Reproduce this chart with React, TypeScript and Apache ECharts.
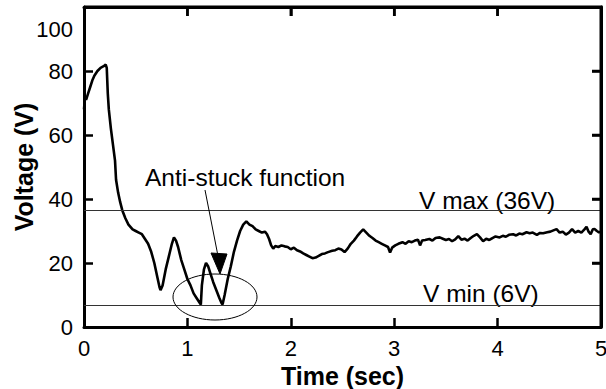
import React, { useEffect, useRef } from "react";
import * as echarts from "echarts";

const timeSec: number[] = [
  0.0, 0.01, 0.02, 0.04, 0.06, 0.08, 0.1, 0.13, 0.16, 0.19, 0.21, 0.22, 0.23, 0.24, 0.26, 0.28, 0.3, 0.31, 0.33, 0.35,
  0.37, 0.4, 0.43, 0.47, 0.5, 0.53, 0.56, 0.59, 0.62, 0.65, 0.68, 0.71, 0.73, 0.74, 0.76, 0.79, 0.82, 0.85, 0.87, 0.89,
  0.91, 0.94, 0.97, 1.0, 1.03, 1.06, 1.09, 1.12, 1.13, 1.14, 1.16, 1.18, 1.2, 1.22, 1.25, 1.28, 1.31, 1.33, 1.34, 1.36,
  1.39, 1.42, 1.45, 1.48, 1.51, 1.54, 1.57, 1.6, 1.63, 1.66, 1.69, 1.72, 1.75, 1.77, 1.79, 1.81, 1.83, 1.85, 1.88, 1.91,
  1.94, 1.97, 2.0, 2.03, 2.06, 2.09, 2.12, 2.15, 2.18, 2.21, 2.24, 2.27, 2.3, 2.33, 2.36, 2.4, 2.43, 2.46, 2.49, 2.52,
  2.55, 2.58, 2.61, 2.64, 2.67, 2.7, 2.73, 2.76, 2.79, 2.82, 2.85, 2.88, 2.91, 2.94, 2.96, 2.98, 3.01, 3.04, 3.08, 3.11,
  3.14, 3.17, 3.2, 3.23, 3.25, 3.27, 3.3, 3.34, 3.37, 3.4, 3.44, 3.47, 3.5, 3.53, 3.56, 3.59, 3.62, 3.65, 3.68, 3.71,
  3.74, 3.77, 3.8, 3.83, 3.86, 3.89, 3.92, 3.95, 3.98, 4.02, 4.05, 4.08, 4.11, 4.15, 4.18, 4.21, 4.24, 4.28, 4.31, 4.34,
  4.38, 4.41, 4.44, 4.48, 4.51, 4.54, 4.57, 4.6, 4.63, 4.66, 4.69, 4.72, 4.75, 4.78, 4.81, 4.84, 4.86, 4.88, 4.9, 4.92,
  4.94, 4.96, 4.98, 5.0,
];

const voltage: number[] = [
  68, 72, 71, 73, 75, 77, 78.5, 80, 81, 81.5, 82, 81, 73, 68, 62, 57, 52, 46, 42, 39,
  36.5, 34, 32, 30.5, 30, 29.5, 29, 27.5, 26, 23.5, 20, 15.5, 12.5, 11.5, 13, 18, 22, 26, 28, 27,
  25, 21, 18, 15, 13, 10.5, 9, 7.5, 7, 13, 18, 20, 19, 17, 14, 11.5, 9, 7.5, 7, 10,
  15, 19, 23.5, 27, 30, 32, 33, 32, 31.5, 30.5, 30, 29.5, 29.8, 29, 27.5, 25.5, 24.5, 25.3, 25, 25.5,
  25.2, 25, 24.3, 24.8, 24, 23.6, 23, 22.5, 22, 21.5, 21.7, 22.2, 22.8, 23, 23.4, 23.8, 24, 24.5, 24.2, 23.4,
  24.5, 26, 27, 28.3, 29.5, 30.5, 29.5, 28.5, 27.8, 27, 26.5, 26, 25.5, 25, 23.3, 24.8, 25.5, 26, 26.5, 26,
  26.8, 26.5, 27, 27.3, 25.5, 27, 27.2, 27.5, 27, 27.8, 28, 27.6, 27.2, 27.5, 26.8, 27.4, 28.4, 27.3, 27.6, 27,
  27.8, 28.5, 29, 28, 26.8, 27.6, 27.2, 27.8, 28.3, 28, 28.5, 28.2, 28.8, 29, 28.6, 29.2, 29, 29.6, 29.3, 29.5,
  28.8, 29.4, 29.3, 29.6, 29.8, 30.2, 30.6, 29.5, 29.8, 28.9, 29.5, 30.6, 29.5, 30, 29.5, 30.5, 31.3, 29.8, 29, 30.5,
  30.6, 30, 29.6, 29.8,
];

const xTicks: number[] = [0, 1, 2, 3, 4, 5];
const yTicks: number[] = [0, 20, 40, 60, 80, 100];
const vMax = 36.5;
const vMin = 6.7;
const vMaxLabel = "V max (36V)";
const vMinLabel = "V min (6V)";
const annotationText = "Anti-stuck function";
const xTitle = "Time (sec)";
const yTitle = "Voltage (V)";

const FONT = "'Liberation Sans', Arial, Helvetica, sans-serif";

export default function App() {
  const ref = useRef<HTMLDivElement>(null);

  useEffect(() => {
    if (!ref.current) return;
    const chart = echarts.init(ref.current, undefined, { renderer: "svg" });
    const points = timeSec.map((t, i) => [t, voltage[i]]);
    const mkLine = () => ({ show: true, onZero: false, lineStyle: { color: "#000", width: 3 } });
    const mkTick = () => ({ show: true, inside: true, length: 9, lineStyle: { color: "#000", width: 2.5 } });
    const xMin = xTicks[0];
    const xMax = xTicks[xTicks.length - 1];
    const yMin = yTicks[0];
    const yMax = yTicks[yTicks.length - 1];

    const annotations: any[] = [
      {
        type: "text",
        x: 73,
        y: 29,
        style: { text: String(yMax), fill: "#000", font: `22px ${FONT}`, align: "right", verticalAlign: "middle" },
      },
      {
        type: "text",
        x: 145,
        y: 177,
        style: { text: annotationText, fill: "#000", font: `24.5px ${FONT}`, align: "left", verticalAlign: "middle" },
      },
      {
        type: "text",
        x: 419,
        y: 200,
        style: { text: vMaxLabel, fill: "#000", font: `24.5px ${FONT}`, align: "left", verticalAlign: "middle" },
      },
      {
        type: "text",
        x: 423,
        y: 293,
        style: { text: vMinLabel, fill: "#000", font: `24.5px ${FONT}`, align: "left", verticalAlign: "middle" },
      },
      {
        type: "ellipse",
        shape: { cx: 215, cy: 297, rx: 42, ry: 23 },
        style: { fill: "none", stroke: "#000", lineWidth: 1 },
        z: 10,
      },
      {
        type: "line",
        shape: { x1: 205, y1: 190, x2: 218, y2: 256 },
        style: { stroke: "#000", lineWidth: 1 },
        z: 10,
      },
      {
        type: "polygon",
        shape: { points: [[211, 253], [227, 254], [220, 274]] },
        style: { fill: "#000", stroke: "#000", lineWidth: 1 },
        z: 10,
      },
    ];

    chart.setOption({
      animation: false,
      grid: { left: 84, right: 5, top: 7, bottom: 62, containLabel: false, outerBoundsMode: "none" },
      xAxis: [
        {
          type: "value",
          position: "bottom",
          min: xMin,
          max: xMax,
          interval: 1,
          axisLine: mkLine(),
          axisTick: mkTick(),
          splitLine: { show: false },
          axisLabel: { color: "#000", fontSize: 22, margin: 10, fontFamily: FONT },
          name: xTitle,
          nameLocation: "middle",
          nameGap: 33,
          nameTextStyle: { color: "#000", fontSize: 25, fontWeight: "bold", fontFamily: FONT },
        },
        {
          type: "value",
          position: "top",
          min: xMin,
          max: xMax,
          interval: 1,
          axisLine: mkLine(),
          axisTick: mkTick(),
          splitLine: { show: false },
          axisLabel: { show: false },
        },
      ],
      yAxis: [
        {
          type: "value",
          position: "left",
          min: yMin,
          max: yMax,
          interval: 20,
          axisLine: mkLine(),
          axisTick: mkTick(),
          splitLine: { show: false },
          axisLabel: {
            color: "#000",
            fontSize: 22,
            margin: 11,
            fontFamily: FONT,
            formatter: (v: number) => (v === yMax ? "" : String(v)),
          },
          name: yTitle,
          nameLocation: "middle",
          nameGap: 48,
          nameTextStyle: { color: "#000", fontSize: 25, fontWeight: "bold", fontFamily: FONT },
        },
        {
          type: "value",
          position: "right",
          min: yMin,
          max: yMax,
          interval: 20,
          axisLine: mkLine(),
          axisTick: mkTick(),
          splitLine: { show: false },
          axisLabel: { show: false },
        },
      ],
      series: [
        {
          type: "line",
          data: points,
          showSymbol: false,
          symbol: "none",
          clip: false,
          lineStyle: { color: "#000", width: 2.6 },
          markLine: {
            silent: true,
            symbol: "none",
            label: { show: false },
            lineStyle: { color: "#333", width: 1, type: "solid" },
            data: [{ yAxis: vMax }, { yAxis: vMin }],
          },
        },
      ],
      graphic: annotations,
    });

    // Frame (top and right edges) with ticks, positioned through the chart's own scales.
    const p0 = chart.convertToPixel({ gridIndex: 0 }, [xMin, yMin]) as number[];
    const p1 = chart.convertToPixel({ gridIndex: 0 }, [xMax, yMax]) as number[];
    if (p0 && p1) {
      const frame: any[] = [
        { type: "line", shape: { x1: p0[0], y1: p1[1], x2: p1[0] + 1.5, y2: p1[1] }, style: { stroke: "#000", lineWidth: 3 }, z: 20 },
        { type: "line", shape: { x1: p1[0], y1: p1[1], x2: p1[0], y2: p0[1] }, style: { stroke: "#000", lineWidth: 3 }, z: 20 },
      ];
      xTicks.slice(1, -1).forEach((t) => {
        const px = (chart.convertToPixel({ xAxisIndex: 0 }, t) as number);
        frame.push({ type: "line", shape: { x1: px, y1: p1[1], x2: px, y2: p1[1] + 9 }, style: { stroke: "#000", lineWidth: 2.5 }, z: 20 });
      });
      yTicks.slice(1, -1).forEach((v) => {
        const py = (chart.convertToPixel({ yAxisIndex: 0 }, v) as number);
        frame.push({ type: "line", shape: { x1: p1[0] - 9, y1: py, x2: p1[0], y2: py }, style: { stroke: "#000", lineWidth: 2.5 }, z: 20 });
      });
      chart.setOption({ graphic: [...annotations, ...frame] });
    }

    return () => chart.dispose();
  }, []);

  return <div ref={ref} style={{ width: 606, height: 389, position: "absolute", left: 0, top: 0 }} />;
}
